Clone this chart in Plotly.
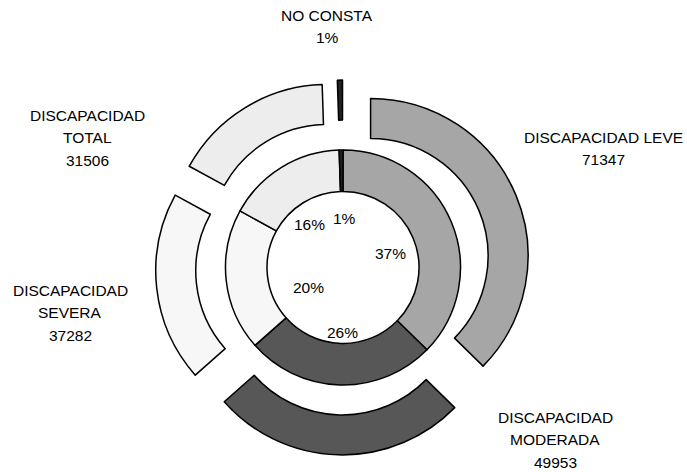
import plotly.graph_objects as go

# ---- data ----
categories = ["DISCAPACIDAD LEVE", "DISCAPACIDAD MODERADA", "DISCAPACIDAD SEVERA",
              "DISCAPACIDAD TOTAL", "NO CONSTA"]
values = [71347, 49953, 37282, 31506, 1000]
colors = ["#A6A6A6", "#575757", "#F7F7F7", "#EDEDED", "#222222"]

# outer label lines per category
label_lines = [
    ["DISCAPACIDAD LEVE", "71347"],
    ["DISCAPACIDAD", "MODERADA", "49953"],
    ["DISCAPACIDAD", "SEVERA", "37282"],
    ["DISCAPACIDAD", "TOTAL", "31506"],
    ["NO CONSTA", "1%"],
]
# label anchor (pixel center of first line) per category
label_pos = [(603, 137), (555, 417), (70, 290), (87, 115), (327, 15)]
line_gap = 22.5

total = sum(values)
pct_text = [f"{round(v / total * 100)}%" for v in values]
pct_pos = [(390, 253), (342, 332), (308, 287), (309, 225), (344, 218)]

# ---- layout constants ----
W, H = 687, 472
cx, cy = 343, 267.5
r_inner_out = 117.5
r_inner_hole = 76
r_outer_out = 157.5
r_outer_in = 117.5
pull = 0.19

def domain(size):
    half = size / 2
    return dict(x=[(cx - half) / W, (cx + half) / W],
                y=[(H - cy - half) / H, (H - cy + half) / H])

outer_size = 2 * r_outer_out * (1 + pull)
inner_size = 2 * r_inner_out

fig = go.Figure()
fig.add_trace(go.Pie(
    labels=categories, values=values, sort=False, direction="clockwise", rotation=0,
    hole=r_outer_in / r_outer_out, pull=[pull] * len(values),
    marker=dict(colors=colors, line=dict(color="#000000", width=1.5)),
    textinfo="none", hoverinfo="skip", domain=domain(outer_size),
))
fig.add_trace(go.Pie(
    labels=categories, values=values, sort=False, direction="clockwise", rotation=0,
    hole=r_inner_hole / r_inner_out,
    marker=dict(colors=colors, line=dict(color="#000000", width=1.5)),
    textinfo="none", hoverinfo="skip", domain=domain(inner_size),
))

font = dict(family="Liberation Sans, Arial, sans-serif", size=15.5, color="#000000")
annotations = []
for lines, (px, py) in zip(label_lines, label_pos):
    for i, t in enumerate(lines):
        annotations.append(dict(text=t, x=px / W, y=1 - (py + i * line_gap) / H,
                                xref="paper", yref="paper", xanchor="center",
                                yanchor="middle", showarrow=False, font=font))
for t, (px, py) in zip(pct_text, pct_pos):
    annotations.append(dict(text=t, x=px / W, y=1 - py / H, xref="paper", yref="paper",
                            xanchor="center", yanchor="middle", showarrow=False, font=font))

fig.update_layout(width=W, height=H, margin=dict(l=0, r=0, t=0, b=0),
                  paper_bgcolor="white", plot_bgcolor="white", showlegend=False,
                  annotations=annotations)
fig.write_html("out.html", config={"displayModeBar": False},
               post_script="document.body.style.margin='0';document.body.style.overflow='hidden';")
